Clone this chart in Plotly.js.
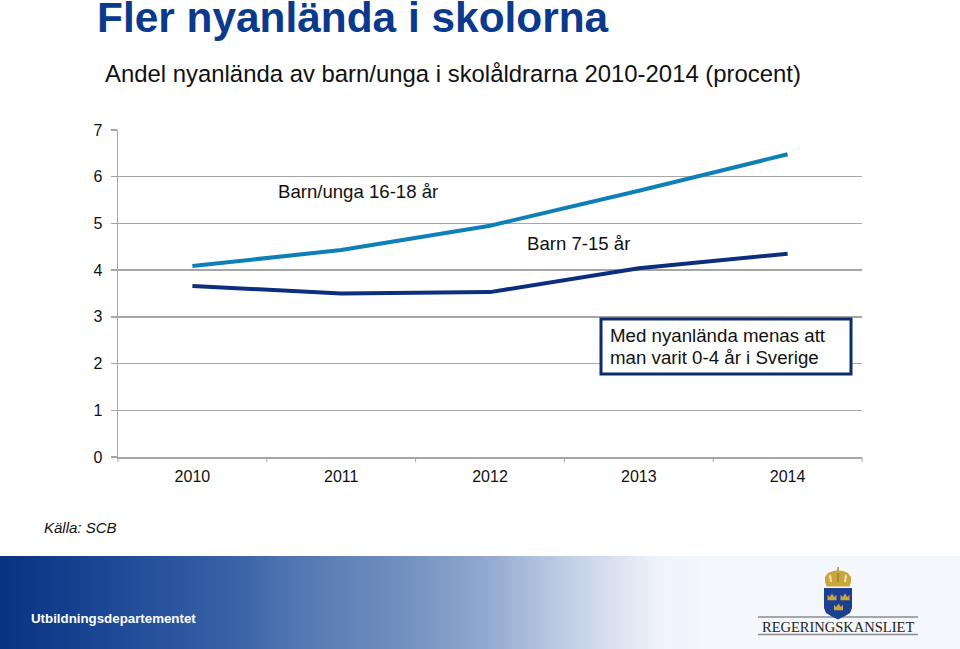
<!DOCTYPE html>
<html><head><meta charset="utf-8">
<script src="https://cdn.plot.ly/plotly-3.0.1.min.js"></script>
<style>html,body{margin:0;padding:0;background:#fff}#c{width:960px;height:649px}</style>
</head><body><div id="c"></div>
<script>
const years = ['2010','2011','2012','2013','2014'];
const barnUnga = [4.09,4.43,4.95,5.70,6.48];
const barn = [3.66,3.50,3.53,4.04,4.35];
const yTicks = [0,1,2,3,4,5,6,7];
const W=960,H=649;
const px=x=>x/W, py=y=>1-y/H;
const FONT='"Liberation Sans", Arial, sans-serif';
function note(text,x,y,size,color,extra){
  return Object.assign({text:text,x:px(x),y:py(y),xref:'paper',yref:'paper',xanchor:'left',yanchor:'middle',showarrow:false,align:'left',font:{family:FONT,size:size,color:color}},extra||{});
}
const stops=[[0,[8,50,130]],[100,[26,70,148]],[240,[58,100,168]],[300,[84,120,180]],[400,[112,143,190]],[480,[143,166,207]],[560,[188,203,228]],[620,[220,227,240]],[660,[239,243,251]],[720,[244,247,251]],[960,[244,247,251]]];
function col(x){for(let i=1;i<stops.length;i++){if(x<=stops[i][0]){const a=stops[i-1],b=stops[i],t=(x-a[0])/(b[0]-a[0]);return 'rgb('+a[1].map((v,k)=>Math.round(v+(b[1][k]-v)*t)).join(',')+')';}}return 'rgb(244,247,251)';}
const shapes=[];
for(let x=0;x<960;x+=4){shapes.push({type:'rect',xref:'paper',yref:'paper',layer:'below',x0:px(x),x1:px(x+4.5),y0:py(649),y1:py(556),fillcolor:col(x+2),line:{width:0}});}
function path(d,fill){shapes.push({type:'path',xref:'paper',yref:'paper',path:d,fillcolor:fill,line:{width:0},layer:'above'});}
function P(pts){return 'M'+pts.map(p=>px(p[0]).toFixed(5)+','+py(p[1]).toFixed(5)).join('L')+'Z';}
function hline(x0,x1,y,c,w){shapes.push({type:'line',xref:'paper',yref:'paper',layer:'above',x0:px(x0),x1:px(x1),y0:py(y),y1:py(y),line:{color:c,width:w}});}
function crown(cx,cy,s,fill){path(P([[cx-s,cy+s*0.7],[cx-s,cy-s*0.5],[cx-s*0.5,cy],[cx,cy-s*0.8],[cx+s*0.5,cy],[cx+s,cy-s*0.5],[cx+s,cy+s*0.7]]),fill);}
hline(758,918,617,'#8c8c8c',1.5);
hline(758,918,634.5,'#8c8c8c',1.5);
path(P([[824,588],[852,588],[852,608],[850,613],[845,616],[838,619.5],[831,616],[826,613],[824,608]]),'#1c3f94');
crown(832,597,4.5,'#c9a63c');crown(845,597,4.5,'#c9a63c');crown(838.5,607,4.5,'#c9a63c');
path(P([[825,582],[825,577],[828,573],[833,571],[837,570.5],[837,567],[839,567],[839,570.5],[843,571],[848,573],[851,577],[851,582],[849.5,586.5],[826.5,586.5]]),'#c9a63c');
path(P([[829,576],[831,574],[832,582],[830,582]]),'#f3e3a8');
path(P([[837.5,573],[838.5,573],[838.5,582],[837.5,582]]),'#8c6f1f');
path(P([[845,574],[847,576],[846,582],[844,582]]),'#f3e3a8');
shapes.push({type:'rect',xref:'paper',yref:'paper',layer:'above',x0:px(601),x1:px(851),y0:py(319),y1:py(374),fillcolor:'#fff',line:{color:'#0d2c6e',width:3}});
const annotations=[
 note('<b>Fler nyanlända i skolorna</b>',95,18,42.4,'#0b3a8c'),
 note('Andel nyanlända av barn/unga i skolåldrarna 2010-2014 (procent)',103,73.5,23.9,'#111'),
 note('Barn/unga 16-18 år',276,191,18.6,'#111'),
 note('Barn 7-15 år',525,244,18.6,'#111'),
 note('Med nyanlända menas att',608,335,18.7,'#111'),
 note('man varit 0-4 år i Sverige',608,357,18.7,'#111'),
 note('<i>Källa: SCB</i>',42,527.5,15,'#111'),
 note('<b>Utbildningsdepartementet</b>',29,618.5,13.3,'#fff'),
 note('REGERINGSKANSLIET',760,626.5,14.5,'#222',{font:{family:'"Liberation Serif", serif',size:14.5,color:'#222'}})
];
const traces=[
 {type:'scatter',mode:'lines',name:'Barn/unga 16-18 år',x:years,y:barnUnga,line:{color:'#0f7fb8',width:4},hoverinfo:'skip'},
 {type:'scatter',mode:'lines',name:'Barn 7-15 år',x:years,y:barn,line:{color:'#0b2e7e',width:4},hoverinfo:'skip'}
];
const layout={
 width:W,height:H,margin:{l:0,r:0,t:0,b:0,pad:0},paper_bgcolor:'#fff',plot_bgcolor:'rgba(0,0,0,0)',showlegend:false,
 font:{family:FONT,color:'#111'},
 xaxis:{domain:[px(118),px(862)],type:'category',range:[-0.5,4.5],anchor:'y',tickvals:years,ticktext:years,ticks:'outside',ticklen:0,ticklabelstandoff:4,tickfont:{size:16,color:'#111'},showgrid:false,showline:true,linecolor:'#a6a6a6',linewidth:1.5,zeroline:false,fixedrange:true,automargin:false},
 yaxis:{domain:[py(457),py(130)],range:[0,7],anchor:'x',tickvals:yTicks,ticks:'outside',ticklen:6,tickcolor:'#a6a6a6',tickwidth:1.5,tickfont:{size:16,color:'#111'},ticklabelstandoff:5,showgrid:true,gridcolor:'#a6a6a6',gridwidth:1.5,showline:true,linecolor:'#a6a6a6',linewidth:1.5,zeroline:false,fixedrange:true,automargin:false},
 shapes:shapes,annotations:annotations
};
years.concat(['']).forEach((_,i)=>{const x=118+i*148.8;shapes.push({type:'line',xref:'paper',yref:'paper',x0:px(x),x1:px(x),y0:py(457),y1:py(462),line:{color:'#a6a6a6',width:1}});});
Plotly.newPlot('c',traces,layout,{displayModeBar:false,staticPlot:true});
</script></body></html>
